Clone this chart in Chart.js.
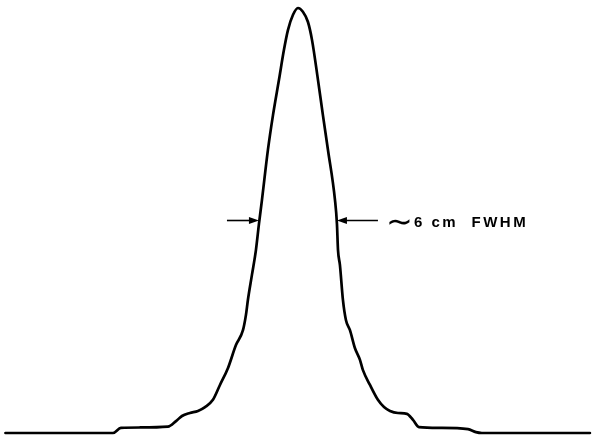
<!DOCTYPE html>
<html>
<head>
<meta charset="utf-8">
<script src="https://cdn.jsdelivr.net/npm/chart.js@4/dist/chart.umd.min.js"></script>
<style>
  html, body { margin: 0; padding: 0; background: #fff; }
  #wrap { width: 592px; height: 436px; }
  canvas { display: block; background: #fff; }
</style>
</head>
<body>
<div id="wrap"><canvas id="c" width="592" height="436"></canvas></div>
<script>
// Position across the profile (cm, centred on the peak)
const positionCm = [
  -22.5, -14.23, -13.62, -12.15, -10.0, -9.38, -8.92, -8.31, -7.69, -7.15,
  -6.54, -6.0, -5.38, -4.77, -4.23, -4.0, -3.85, -3.54, -3.23, -3.0,
  -2.77, -2.31, -1.92, -1.46, -1.08, -0.77, -0.38, 0.0,
  0.38, 0.77, 1.08, 1.54, 1.92, 2.31, 2.85, 3.0, 3.08, 3.23,
  3.46, 3.69, 4.0, 4.38, 4.77, 5.0, 5.54, 6.15, 6.62, 7.08,
  7.69, 8.38, 8.85, 9.31, 10.92, 13.08, 13.69, 14.15, 22.46
];
// Relative intensity (peak = 1)
const intensity = [
  0.0, 0.0, 0.012, 0.013, 0.015, 0.028, 0.040, 0.047, 0.052, 0.061,
  0.078, 0.113, 0.153, 0.207, 0.242, 0.278, 0.313, 0.372, 0.431, 0.492,
  0.548, 0.666, 0.748, 0.831, 0.901, 0.948, 0.984, 1.0,
  0.991, 0.967, 0.925, 0.831, 0.748, 0.666, 0.548, 0.492, 0.431, 0.395,
  0.313, 0.266, 0.242, 0.200, 0.172, 0.148, 0.113, 0.078, 0.061, 0.052,
  0.047, 0.045, 0.031, 0.014, 0.012, 0.009, 0.002, 0.0, 0.0
];
// Annotation values
const fwhmCm = 6;
const halfMax = 0.5;
const fwhmTilde = "\u223C";
const fwhmLabel = "6 cm  FWHM";

const fwhmPlugin = {
  id: 'fwhmArrows',
  afterDatasetsDraw(chart) {
    const ctx = chart.ctx;
    const xs = chart.scales.x, ys = chart.scales.y;
    const y = ys.getPixelForValue(halfMax);
    const leftTip = xs.getPixelForValue(-fwhmCm / 2);
    const rightTip = xs.getPixelForValue(fwhmCm / 2);
    const tailLen = 32, rightTailLen = 41;
    const headLen = 10, headHalf = 3.5;
    ctx.save();
    ctx.strokeStyle = '#000';
    ctx.fillStyle = '#000';
    ctx.lineWidth = 1.6;
    // left arrow (points right)
    ctx.beginPath();
    ctx.moveTo(leftTip - tailLen, y);
    ctx.lineTo(leftTip - headLen + 1, y);
    ctx.stroke();
    ctx.beginPath();
    ctx.moveTo(leftTip, y);
    ctx.lineTo(leftTip - headLen, y - headHalf);
    ctx.lineTo(leftTip - headLen, y + headHalf);
    ctx.closePath();
    ctx.fill();
    // right arrow (points left)
    ctx.beginPath();
    ctx.moveTo(rightTip + headLen - 1, y);
    ctx.lineTo(rightTip + rightTailLen, y);
    ctx.stroke();
    ctx.beginPath();
    ctx.moveTo(rightTip, y);
    ctx.lineTo(rightTip + headLen, y - headHalf);
    ctx.lineTo(rightTip + headLen, y + headHalf);
    ctx.closePath();
    ctx.fill();
    // tilde
    const cy = y + 1.5;
    let x0 = rightTip + rightTailLen + 8;
    ctx.font = '32px "DejaVu Sans"';
    const m = ctx.measureText(fwhmTilde);
    ctx.textBaseline = 'alphabetic';
    ctx.textAlign = 'left';
    const asc = m.actualBoundingBoxAscent, desc = m.actualBoundingBoxDescent;
    ctx.fillText(fwhmTilde, x0, cy + (asc - desc) / 2);
    x0 += m.actualBoundingBoxRight + 4;
    // label
    ctx.font = 'bold 15px "Liberation Sans", Arial, sans-serif';
    if ('letterSpacing' in ctx) ctx.letterSpacing = '2.5px';
    const m2 = ctx.measureText(fwhmLabel);
    const a2 = m2.actualBoundingBoxAscent, d2 = m2.actualBoundingBoxDescent;
    ctx.fillText(fwhmLabel, x0, cy + (a2 - d2) / 2);
    ctx.restore();
  }
};

new Chart(document.getElementById('c'), {
  type: 'line',
  data: {
    datasets: [{
      data: positionCm.map((x, i) => ({ x: x, y: intensity[i] })),
      borderColor: '#000',
      borderWidth: 2.7,
      pointRadius: 0,
      cubicInterpolationMode: 'monotone',
      borderCapStyle: 'round',
      borderJoinStyle: 'round',
      fill: false,
      clip: false
    }]
  },
  options: {
    responsive: false,
    animation: false,
    devicePixelRatio: 1,
    layout: { padding: 0 },
    plugins: { legend: { display: false }, tooltip: { enabled: false } },
    scales: {
      x: { type: 'linear', display: false, min: -22.92, max: 22.62 },
      y: { display: false, min: -0.00706, max: 1.01882 }
    }
  },
  plugins: [fwhmPlugin]
});
</script>
</body>
</html>
